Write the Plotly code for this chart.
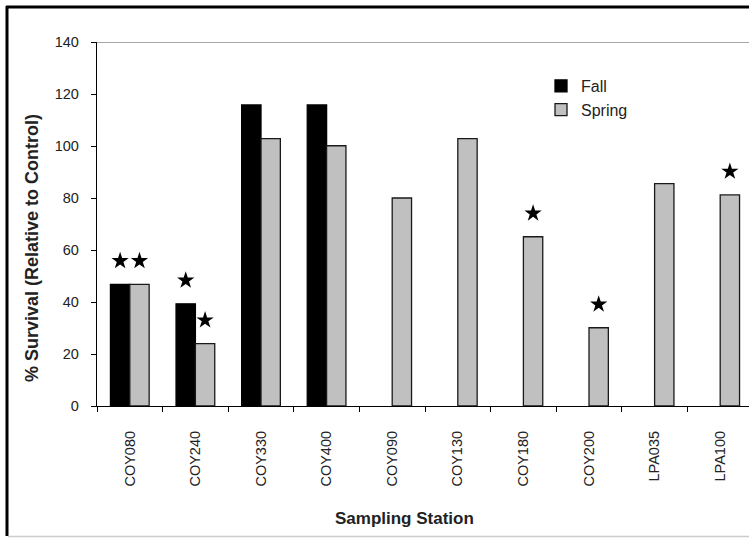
import plotly.graph_objects as go

stations = ["COY080", "COY240", "COY330", "COY400", "COY090",
            "COY130", "COY180", "COY200", "LPA035", "LPA100"]
fall = [46.8, 39.3, 115.8, 115.8, None, None, None, None, None, None]
spring = [46.8, 24.0, 102.8, 100.1, 80.0, 102.8, 65.1, 30.1, 85.5, 81.2]
fall_sig = [True, True, False, False, False, False, False, False, False, False]
spring_sig = [True, True, False, False, False, False, True, True, False, True]

FONT = "Arial, Liberation Sans, sans-serif"
idx = list(range(len(stations)))
bargap = 0.41
bw = (1 - bargap) / 2
star_gap = 9

fig = go.Figure()
fig.add_trace(go.Bar(x=idx, y=fall, name="Fall",
                     marker=dict(color="black", line=dict(color="black", width=1.3))))
fig.add_trace(go.Bar(x=idx, y=spring, name="Spring",
                     marker=dict(color="#C0C0C0", line=dict(color="#1a1a1a", width=1.3))))

sx, sy = [], []
for i, (v, s) in enumerate(zip(fall, fall_sig)):
    if s and v is not None:
        sx.append(i - bw / 2); sy.append(v + star_gap)
for i, (v, s) in enumerate(zip(spring, spring_sig)):
    if s and v is not None:
        sx.append(i + bw / 2); sy.append(v + star_gap)
fig.add_trace(go.Scatter(x=sx, y=sy, mode="markers", showlegend=False,
                         marker=dict(symbol="star", size=13, color="black",
                                     line=dict(width=0)), hoverinfo="skip"))

W, H = 749, 538
L, R, T, B = 97, 0, 42, 132
pw, ph = W - L - R, H - T - B

def px(x):
    return (x - L) / pw

def py(y):
    return (H - B - y) / ph

fig.update_layout(
    width=W, height=H,
    margin=dict(l=L, r=R, t=T, b=B, pad=0),
    paper_bgcolor="white", plot_bgcolor="white",
    barmode="group", bargap=bargap, bargroupgap=0,
    font=dict(family=FONT, color="#222", size=14),
    showlegend=True,
    legend=dict(x=px(541), y=py(69), xanchor="left", yanchor="top",
                bgcolor="rgba(0,0,0,0)", font=dict(size=16, family=FONT, color="#222"),
                itemwidth=30, tracegroupgap=0, traceorder="normal"),
    xaxis=dict(range=[-0.5, -0.5 + pw / 65.6], tickmode="array", tickvals=idx,
               ticktext=stations, tickangle=-90, ticks="", showgrid=False,
               zeroline=False, showline=True, linecolor="black", linewidth=1.3,
               tickfont=dict(size=14.5, family=FONT, color="#222"),
               ticklabelstandoff=18,
               minor=dict(tick0=0.5, dtick=1, ticks="outside", ticklen=5,
                          tickcolor="black", tickwidth=1, showgrid=False)),
    yaxis=dict(range=[0, 140], tickmode="linear", tick0=0, dtick=20,
               ticks="outside", ticklen=5, tickcolor="black", tickwidth=1,
               showgrid=False, zeroline=False, showline=True, linecolor="black",
               linewidth=1.3, tickfont=dict(size=14.5, family=FONT, color="#222"),
               ticklabelstandoff=9),
    shapes=[
        dict(type="line", xref="paper", yref="y", x0=0, x1=1, y0=140, y1=140,
             line=dict(color="#8a8a8a", width=1.5)),
        dict(type="line", xref="paper", yref="paper", x0=px(6), x1=px(760),
             y0=py(7), y1=py(7), line=dict(color="black", width=3)),
        dict(type="line", xref="paper", yref="paper", x0=px(7), x1=px(7),
             y0=py(6), y1=py(536), line=dict(color="black", width=3)),
        dict(type="line", xref="paper", yref="paper", x0=px(8), x1=px(760),
             y0=py(536.5), y1=py(536.5), line=dict(color="#cccccc", width=1.5)),
    ],
    annotations=[
        dict(text="<b>Sampling Station</b>", xref="paper", yref="paper",
             x=px(404), y=py(518), xanchor="center", yanchor="middle",
             showarrow=False, font=dict(size=17, family=FONT, color="#222")),
        dict(text="<b>% Survival (Relative to Control)</b>", xref="paper", yref="paper",
             x=px(32), y=py(248), xanchor="center", yanchor="middle", textangle=-90,
             showarrow=False, font=dict(size=18, family=FONT, color="#222")),
    ],
)

fig.write_html("out.html", config={"displayModeBar": False},
               post_script="document.body.style.margin='0';document.body.style.overflow='hidden';")
